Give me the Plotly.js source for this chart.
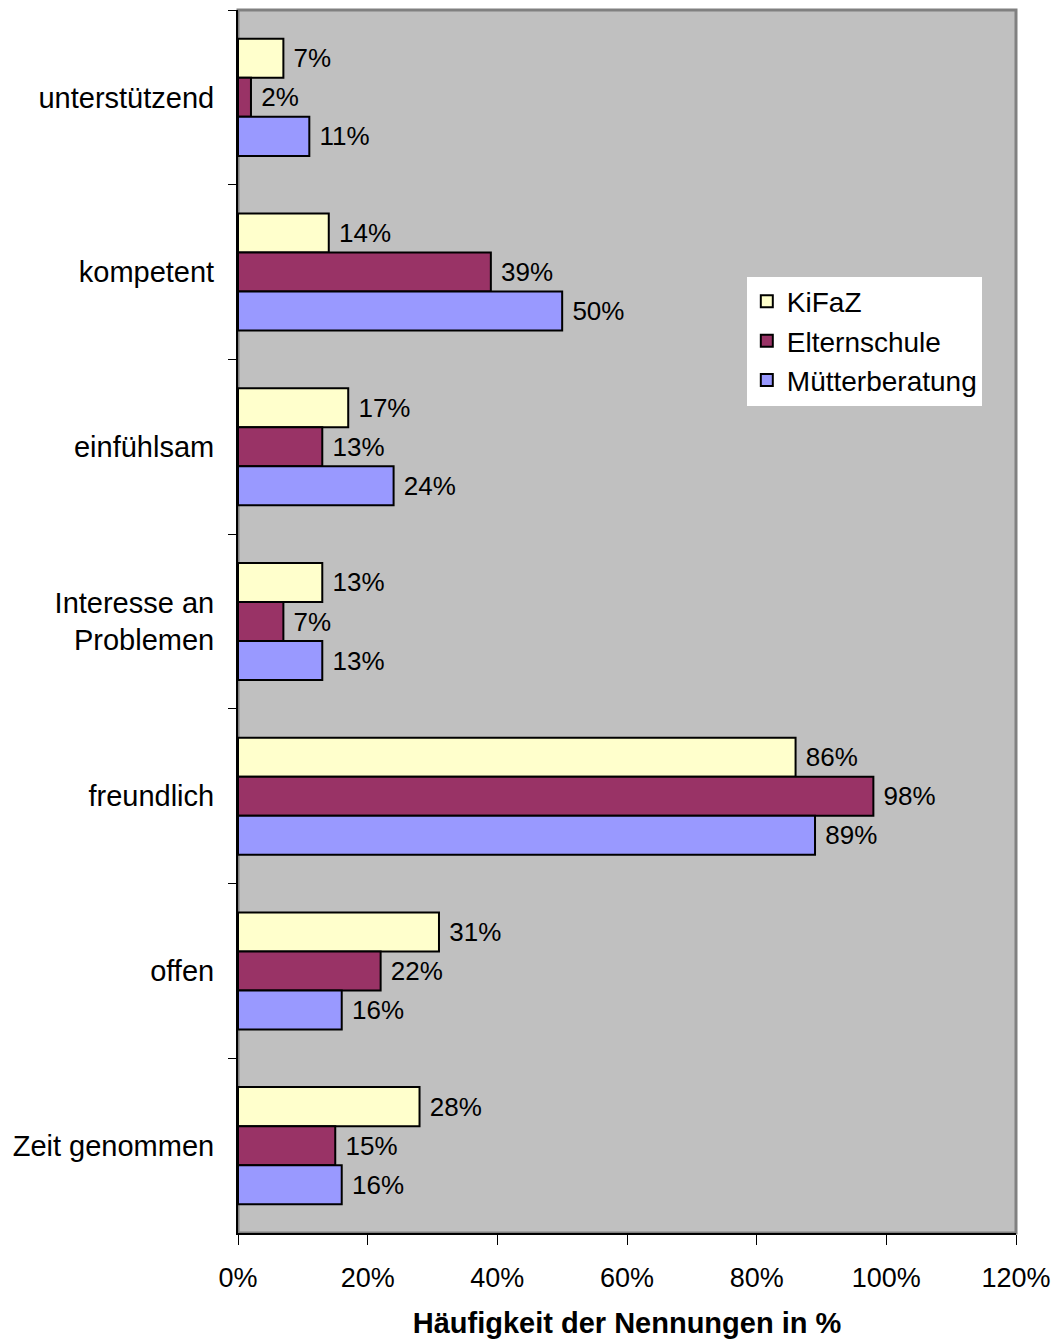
<!DOCTYPE html>
<html>
<head>
<meta charset="utf-8">
<script src="https://cdn.plot.ly/plotly-3.0.1.min.js"></script>
<style>html,body{margin:0;padding:0;background:#fff;}#chart{width:1058px;height:1342px;}</style>
</head>
<body>
<div id="chart"></div>
<script>
const categories = ["unterstützend", "kompetent", "einfühlsam", "Interesse an<br>Problemen", "freundlich", "offen", "Zeit genommen"];
const kifaz = [7, 14, 17, 13, 86, 31, 28];
const elternschule = [2, 39, 13, 7, 98, 22, 15];
const muetterberatung = [11, 50, 24, 13, 89, 16, 16];
const seriesNames = ["KiFaZ", "Elternschule", "Mütterberatung"];
const seriesColors = ["#FFFFCC", "#993366", "#9999FF"];
const xTickVals = [0, 20, 40, 60, 80, 100, 120];

const FONT = "Liberation Sans, Arial, sans-serif";
const allSeries = [kifaz, elternschule, muetterberatung];
const traces = allSeries.map((vals, i) => ({
  type: "bar",
  orientation: "h",
  name: seriesNames[i],
  y: categories,
  x: vals,
  marker: {color: seriesColors[i], line: {color: "#000", width: 2}},
  texttemplate: "\u00A0%{x}%",
  textposition: "outside",
  textfont: {family: FONT, size: 26, color: "#000"},
  cliponaxis: false,
  hoverinfo: "skip"
}));

const layout = {
  width: 1058, height: 1342,
  margin: {l: 238, r: 42, t: 10, b: 109},
  paper_bgcolor: "#fff",
  plot_bgcolor: "#C0C0C0",
  font: {family: FONT, size: 28, color: "#000"},
  barmode: "group",
  bargap: 0.33,
  bargroupgap: 0,
  showlegend: true,
  legend: {
    x: 0.654, y: 0.782, xanchor: "left", yanchor: "top",
    bgcolor: "#fff", borderwidth: 0,
    font: {family: FONT, size: 28},
    traceorder: "normal",
    itemwidth: 30
  },
  xaxis: {
    range: [0, 120],
    tickvals: xTickVals,
    ticktext: xTickVals.map(v => v + "%"),
    showgrid: false, zeroline: false,
    showline: true, linecolor: "#000", linewidth: 2,
    ticks: "outside", ticklen: 10, tickwidth: 1, tickcolor: "#000",
    ticklabelstandoff: 10,
    tickfont: {family: FONT, size: 27},
    title: {text: "<b>Häufigkeit der Nennungen in %</b>", font: {family: FONT, size: 29}, standoff: 20}
  },
  yaxis: {
    type: "category",
    autorange: "reversed",
    showgrid: false, zeroline: false,
    showline: true, linecolor: "#000", linewidth: 2,
    ticks: "outside", ticklen: 8, tickwidth: 1, tickcolor: "#000",
    tickson: "boundaries",
    ticklabelstandoff: 16,
    tickfont: {family: FONT, size: 29}
  },
  shapes: [{
    type: "rect", xref: "paper", yref: "paper", x0: 0, x1: 1, y0: 0, y1: 1,
    line: {color: "#808080", width: 3}, layer: "below"
  }]
};

Plotly.newPlot("chart", traces, layout, {staticPlot: true});
</script>
</body>
</html>
